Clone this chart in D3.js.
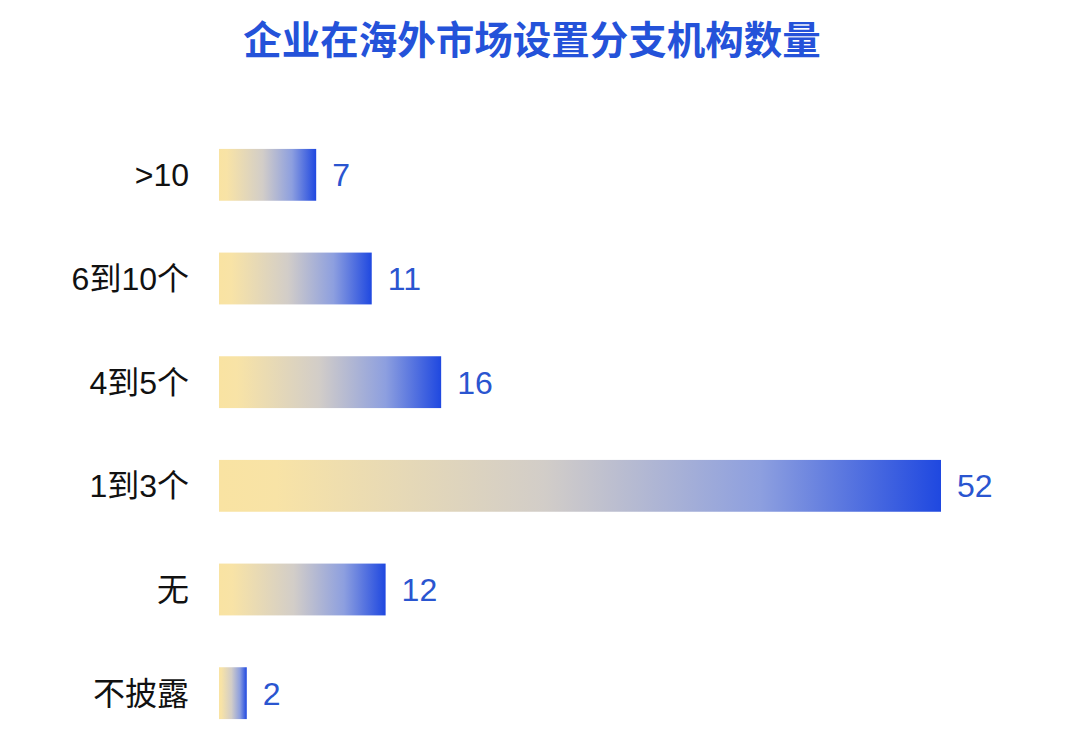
<!DOCTYPE html>
<html>
<head>
<meta charset="utf-8">
<script src="https://cdn.jsdelivr.net/npm/d3@7/dist/d3.min.js"></script>
<style>
  body { margin: 0; background: #fff; }
  text { font-family: "Liberation Sans", "Noto Sans CJK SC", sans-serif; }
  .title { font-family: "Noto Sans CJK SC", sans-serif; }
</style>
</head>
<body>
<div id="chart"></div>
<script>
const chartTitle = "企业在海外市场设置分支机构数量";
const categories = [">10", "6到10个", "4到5个", "1到3个", "无", "不披露"];
const counts = [7, 11, 16, 52, 12, 2];

const width = 1080, height = 747;

const svg = d3.select("#chart")
    .append("svg")
    .attr("width", width)
    .attr("height", height);

// gradient per bar: pale yellow -> grey -> blue
const grad = svg.append("defs")
    .append("linearGradient")
    .attr("id", "barGrad")
    .attr("x1", "0%").attr("x2", "100%")
    .attr("y1", "0%").attr("y2", "0%");
grad.append("stop").attr("offset", "0%").attr("stop-color", "#f9e3a2");
grad.append("stop").attr("offset", "8%").attr("stop-color", "#f8e3a6");
grad.append("stop").attr("offset", "45%").attr("stop-color", "#d2cdc8");
grad.append("stop").attr("offset", "75%").attr("stop-color", "#8d9fdf");
grad.append("stop").attr("offset", "100%").attr("stop-color", "#1f48e0");

svg.append("text")
    .attr("class", "title")
    .attr("x", 532)
    .attr("y", 54)
    .attr("text-anchor", "middle")
    .attr("font-size", 38.5)
    .attr("font-weight", "bold")
    .attr("fill", "#2452d9")
    .text(chartTitle);

const x = d3.scaleLinear()
    .domain([0, 52])
    .range([219, 941]);

const y = d3.scaleBand()
    .domain(categories)
    .range([123, 745])
    .paddingInner(0.5)
    .paddingOuter(0.25);

svg.selectAll(".bar")
    .data(categories)
    .enter()
    .append("rect")
    .attr("class", "bar")
    .attr("x", x(0))
    .attr("y", d => y(d))
    .attr("width", (d, i) => x(counts[i]) - x(0))
    .attr("height", y.bandwidth())
    .attr("fill", "url(#barGrad)");

// category labels
svg.selectAll(".cat-label")
    .data(categories)
    .enter()
    .append("text")
    .attr("class", "cat-label")
    .attr("x", 189)
    .attr("y", d => y(d) + y.bandwidth() / 2)
    .attr("dy", "0.36em")
    .attr("text-anchor", "end")
    .attr("font-size", 32)
    .attr("fill", "#111")
    .text(d => d);

// value labels
svg.selectAll(".val-label")
    .data(categories)
    .enter()
    .append("text")
    .attr("class", "val-label")
    .attr("x", (d, i) => x(counts[i]) + 16)
    .attr("y", d => y(d) + y.bandwidth() / 2)
    .attr("dy", "0.36em")
    .attr("font-size", 32)
    .attr("fill", "#2a55d0")
    .text((d, i) => counts[i]);
</script>
</body>
</html>
